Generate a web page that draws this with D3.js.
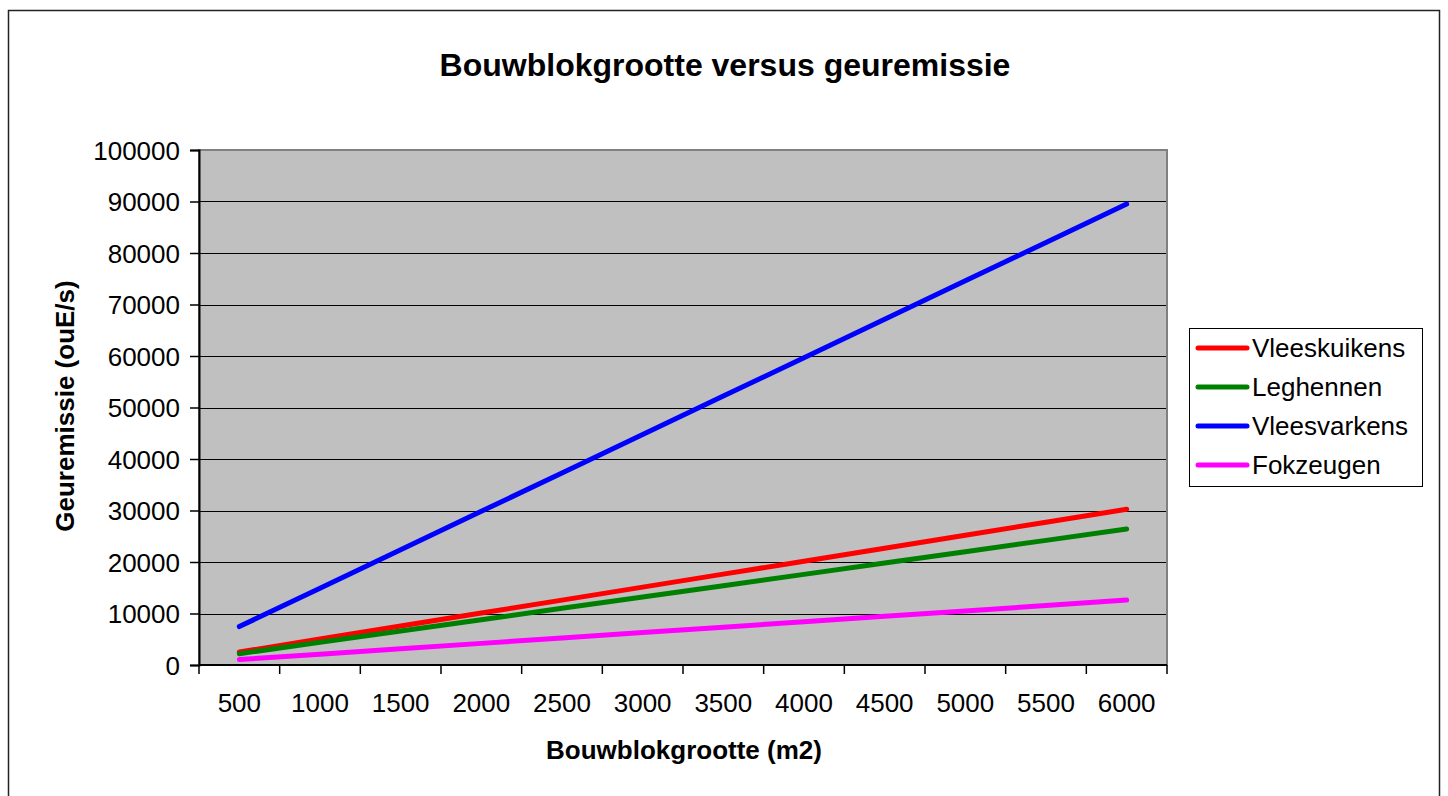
<!DOCTYPE html>
<html>
<head>
<meta charset="utf-8">
<script src="https://cdn.jsdelivr.net/npm/d3@7"></script>
<style>
  body { margin: 0; background: #fff; }
  svg { display: block; font-family: Arial, "Liberation Sans", sans-serif; }
</style>
</head>
<body>
<svg class="line-chart" width="1448" height="796"></svg>
<script>
// categories on the x axis (m2)
const sizes = [500, 1000, 1500, 2000, 2500, 3000, 3500, 4000, 4500, 5000, 5500, 6000];
// y axis ticks
const yTicks = [0, 10000, 20000, 30000, 40000, 50000, 60000, 70000, 80000, 90000, 100000];

// series values (ouE/s)
const vleeskuikens = [2520, 5040, 7560, 10080, 12600, 15120, 17640, 20160, 22680, 25200, 27720, 30240];
const leghennen = [2200, 4400, 6600, 8800, 11000, 13200, 15400, 17600, 19800, 22000, 24200, 26400];
const vleesvarkens = [7460, 14920, 22380, 29840, 37300, 44760, 52220, 59680, 67140, 74600, 82060, 89520];
const fokzeugen = [1050, 2100, 3150, 4200, 5250, 6300, 7350, 8400, 9450, 10500, 11550, 12600];

const seriesNames = ["Vleeskuikens", "Leghennen", "Vleesvarkens", "Fokzeugen"];
const seriesColors = ["#ff0000", "#008000", "#0000ff", "#ff00ff"];

const series = [vleeskuikens, leghennen, vleesvarkens, fokzeugen].map((vals, i) => ({
  name: seriesNames[i],
  color: seriesColors[i],
  values: vals.map((v, j) => ({ size: sizes[j], value: v }))
}));

const svg = d3.select(".line-chart");

// outer chart border
svg.append("rect")
  .attr("x", 8.5).attr("y", 10.5)
  .attr("width", 1431).attr("height", 800)
  .attr("fill", "#fff")
  .attr("stroke", "#222")
  .attr("stroke-width", 1.5);

const plotLeft = 199, plotTop = 150, plotW = 968, plotH = 515;

const xScale = d3.scaleBand().domain(sizes).range([0, plotW]);
const yScale = d3.scaleLinear().domain([0, 100000]).range([plotH, 0]);

const g = svg.append("g")
  .attr("transform", "translate(" + plotLeft + "," + plotTop + ")");

// plot background
g.append("rect")
  .attr("width", plotW).attr("height", plotH)
  .attr("fill", "#c0c0c0");

// gridlines
g.selectAll(".grid")
  .data(yTicks.slice(1))
  .enter()
  .append("line")
  .attr("class", "grid")
  .attr("x1", 0).attr("x2", plotW)
  .attr("y1", d => Math.round(yScale(d)) + 0.5)
  .attr("y2", d => Math.round(yScale(d)) + 0.5)
  .attr("stroke", "#000")
  .attr("stroke-width", 1);

// plot border (top/right gray)
g.append("rect")
  .attr("width", plotW).attr("height", plotH)
  .attr("fill", "none")
  .attr("stroke", "#808080")
  .attr("stroke-width", 2);

// y axis
const yAxis = g.append("g")
  .call(d3.axisLeft(yScale).tickValues(yTicks).tickSize(9).tickPadding(10).tickFormat(d => d));
yAxis.select(".domain").attr("stroke", "#000").attr("stroke-width", 2);
yAxis.selectAll(".tick line").attr("stroke", "#000").attr("stroke-width", 1.5);
yAxis.selectAll("text")
  .style("font-size", "26px")
  .attr("fill", "#000")
  .attr("dy", "0.35em");

// x axis: ticks at category boundaries
const xAxis = g.append("g")
  .attr("transform", "translate(0," + plotH + ")");
xAxis.append("line")
  .attr("x1", 0).attr("x2", plotW)
  .attr("stroke", "#000").attr("stroke-width", 2);
xAxis.selectAll(".xtick")
  .data(sizes.concat(["end"]))
  .enter()
  .append("line")
  .attr("class", "xtick")
  .attr("x1", (d, i) => i < sizes.length ? xScale(d) : plotW)
  .attr("x2", (d, i) => i < sizes.length ? xScale(d) : plotW)
  .attr("y1", 0).attr("y2", 9)
  .attr("stroke", "#000").attr("stroke-width", 1.5);
xAxis.selectAll(".xlabel")
  .data(sizes)
  .enter()
  .append("text")
  .attr("class", "xlabel")
  .attr("x", d => xScale(d) + xScale.bandwidth() / 2)
  .attr("y", 47)
  .attr("text-anchor", "middle")
  .style("font-size", "26px")
  .text(d => d);

// lines
const line = d3.line()
  .x(d => xScale(d.size) + xScale.bandwidth() / 2)
  .y(d => yScale(d.value));

g.selectAll(".series")
  .data(series)
  .enter()
  .append("path")
  .attr("class", "series")
  .attr("d", d => line(d.values))
  .attr("fill", "none")
  .attr("stroke", d => d.color)
  .attr("stroke-width", 5)
  .attr("stroke-linecap", "round")
  .attr("stroke-linejoin", "round");

// title
svg.append("text")
  .attr("x", 725).attr("y", 76)
  .attr("text-anchor", "middle")
  .style("font-size", "32px")
  .style("font-weight", "bold")
  .text("Bouwblokgrootte versus geuremissie");

// x axis title
svg.append("text")
  .attr("x", 684).attr("y", 759)
  .attr("text-anchor", "middle")
  .style("font-size", "26px")
  .style("font-weight", "bold")
  .text("Bouwblokgrootte (m2)");

// y axis title
svg.append("text")
  .attr("transform", "translate(74,406) rotate(-90)")
  .attr("text-anchor", "middle")
  .style("font-size", "26px")
  .style("font-weight", "bold")
  .text("Geuremissie (ouE/s)");

// legend
const legend = svg.append("g").attr("transform", "translate(1189,328)");
legend.append("rect")
  .attr("x", 0.5).attr("y", 0.5)
  .attr("width", 233).attr("height", 158)
  .attr("fill", "#fff")
  .attr("stroke", "#000")
  .attr("stroke-width", 1);
const items = legend.selectAll(".item")
  .data(series)
  .enter()
  .append("g")
  .attr("class", "item")
  .attr("transform", (d, i) => "translate(0," + (20 + i * 39) + ")");
items.append("line")
  .attr("x1", 9).attr("x2", 58)
  .attr("stroke", d => d.color)
  .attr("stroke-width", 5)
  .attr("stroke-linecap", "round");
items.append("text")
  .attr("x", 63).attr("y", 0)
  .attr("dy", "0.35em")
  .style("font-size", "26px")
  .text(d => d.name);
</script>
</body>
</html>
